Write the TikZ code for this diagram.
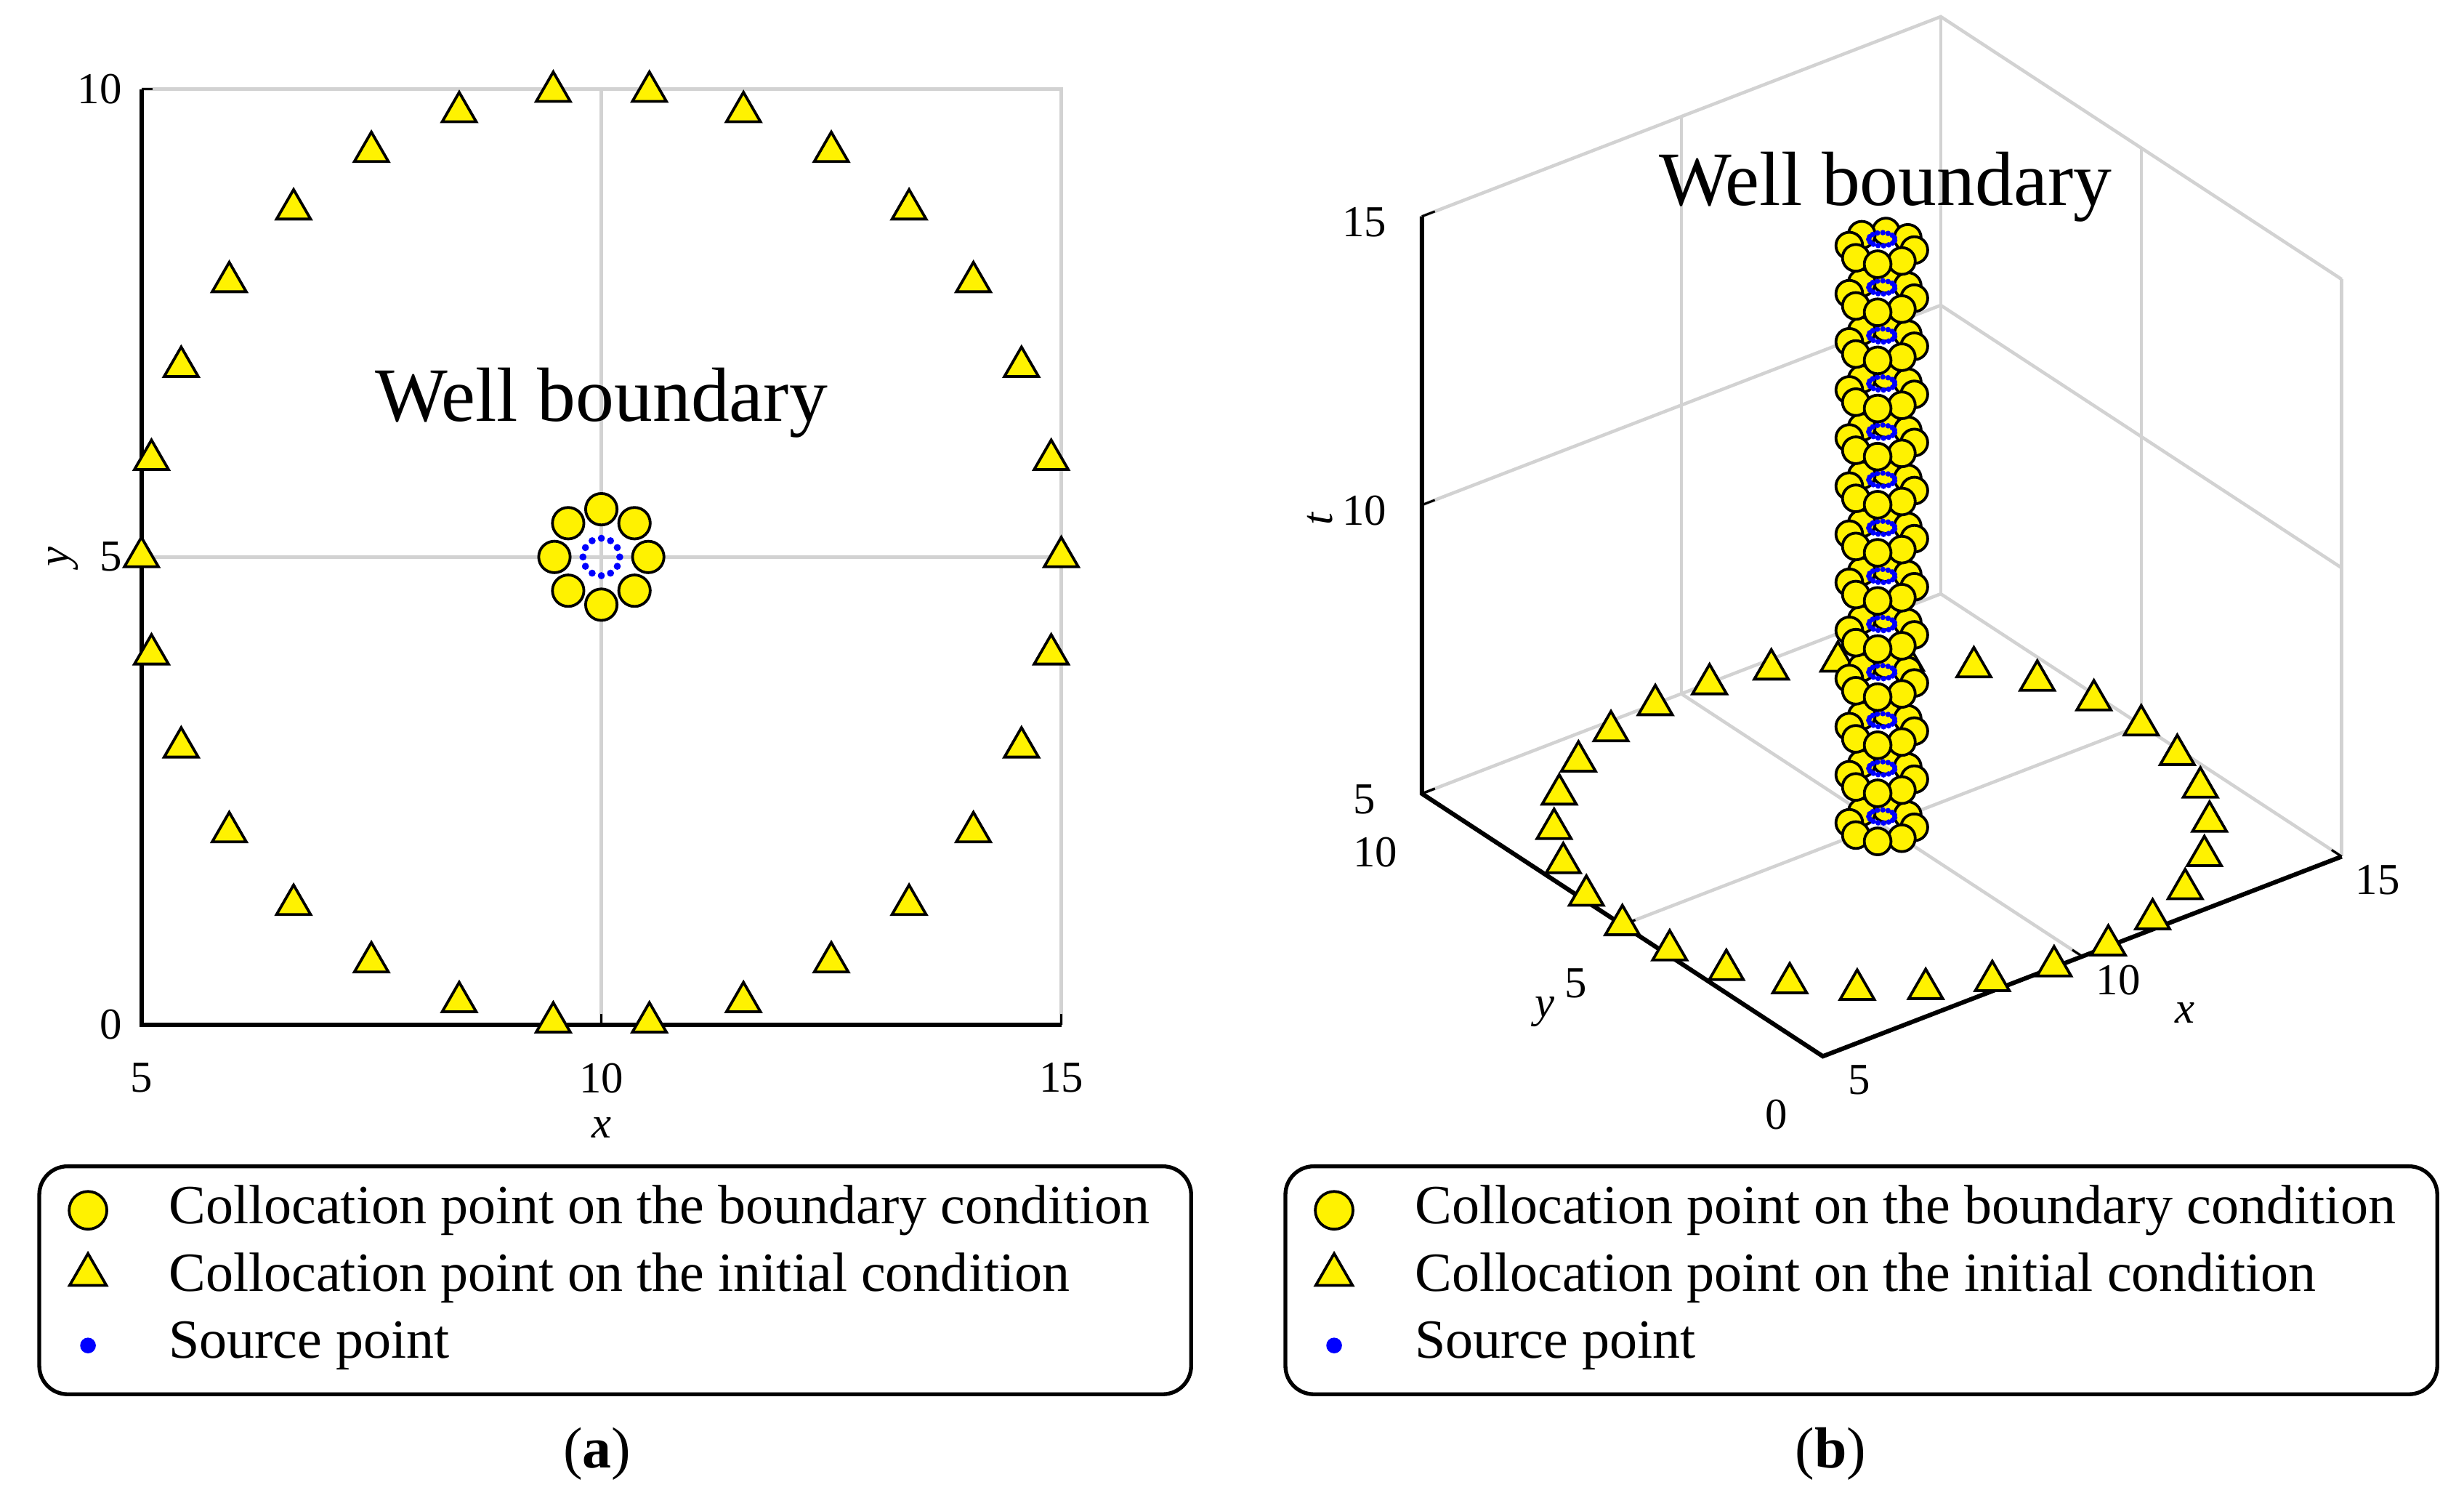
\documentclass[tikz,border=0pt]{standalone}
\usepackage{fontspec}
\setmainfont{Liberation Serif}
\usetikzlibrary{shapes.geometric}

\tikzset{
  tri/.style={regular polygon, regular polygon sides=3, draw=black, fill=yellow, inner sep=0pt, minimum size=0.25cm, line width=0.5pt},
  bc/.style={circle, draw=black, fill=yellow, inner sep=0pt, minimum size=0.2cm, line width=0.5pt},
  src/.style={circle, fill=blue, inner sep=0pt, minimum size=0.045cm},
  grd/.style={draw=gray!35, line width=0.6pt},
  tick/.style={font=\fontsize{8}{9}\selectfont},
  lbl/.style={font=\fontsize{8}{9}\selectfont\itshape},
  leg/.style={font=\fontsize{10}{12}\selectfont, anchor=west},
  title/.style={font=\fontsize{13.9}{16}\selectfont}
}

\begin{document}
\begin{tikzpicture}[x=0.01cm, y=-0.01cm]
	\useasboundingbox (0,0) rectangle (1568,958);
	
	% (a) plane view
	\begin{scope}[shift={(90,652)}, x=0.585cm, y=0.595cm, shift={(-5,0)}]
		\draw[grd] (5,10) -- (15,10) -- (15,0);
		\draw[grd] (10,0) -- (10,10);
		\draw[grd] (5,5) -- (15,5);
		\draw[line width=0.8pt] (5,10) -- (5,0) -- (15,0);
		\foreach \v in {5,10,15} {
			\draw (\v,0) -- (\v,0.12);
			\node[tick, below] (xa\v) at (\v,-0.2) {\v};
		}
		\foreach \v in {0,5,10} {
			\draw (5,\v) -- (5.12,\v);
			\node[tick, left] (ya\v) at (5,\v) {\v};
		}
		\node[lbl] (xlaba) at (10,-1.1) {x};
		\node[lbl, rotate=90] (ylaba) at (4.15,5) {y};
		\node[title] (wella) at (10,6.65) {Well boundary};
		\foreach \a in {0,12,...,348}
			\node[tri] (ta\a) at ({10+5*cos(\a)},{5+5*sin(\a)}) {};
		\foreach \a in {0,45,...,315}
			\node[bc] (ca\a) at ({10+0.51*cos(\a)},{5+0.51*sin(\a)}) {};
		\foreach \a in {0,30,...,330}
			\node[src] (sa\a) at ({10+0.2*cos(\a)},{5+0.2*sin(\a)}) {};
	\end{scope}
	
	% (b) space-time view
	\begin{scope}[shift={(1160,672)}, x={(0.33cm,0.127cm)}, y={(-0.255cm,0.167cm)}, z={(0cm,0.367cm)}, shift={(-5,0,-5)}]
		\draw[grd] (5,10,15) -- (15,10,15) -- (15,0,15);
		\draw[grd] (15,10,5) -- (15,10,15);
		\draw[grd] (15,0,5) -- (15,0,15);
		\draw[grd] (5,10,5) -- (15,10,5) -- (15,0,5);
		\draw[grd] (10,10,5) -- (10,10,15);
		\draw[grd] (10,10,5) -- (10,0,5);
		\draw[grd] (15,5,5) -- (15,5,15);
		\draw[grd] (15,5,5) -- (5,5,5);
		\draw[grd] (5,10,10) -- (15,10,10) -- (15,0,10);
		\draw[line width=0.8pt] (5,10,15) -- (5,10,5) -- (5,0,5) -- (15,0,5);
		\foreach \v in {5,10,15} {
			\draw (\v,0,5) -- (\v,0.25,5);
			\node[tick] (xb\v) at (\v,-0.9,5) {\v};
			\draw (5,10,\v) -- (5.25,10,\v);
			\node[tick] (tb\v) at (4.2,10.4,\v) {\v};
		}
		\foreach \v in {0,5,10} {
			\draw (5,\v,5) -- (5.25,\v,5);
			\node[tick] (yb\v) at (4.1,\v,4.3) {\v};
		}
		\node[lbl] (xlabb) at (10.2,-2.3,5) {x};
		\node[lbl] (ylabb) at (3.2,4.6,4.3) {y};
		\node[lbl, rotate=90] (tlabb) at (3.5,10.6,10) {t};
		\foreach \a in {0,12,...,348}
			\node[tri] (tb\a) at ({10+5*cos(\a)},{5+5*sin(\a)},5) {};
		\foreach \k in {0,...,12} {
			\foreach \a in {45,90,0,135,315,180,270,225}
				\node[bc, minimum size=0.17cm] (cb\k-\a) at ({10+0.5*cos(\a)},{5+0.5*sin(\a)},{5+10*\k/12}) {};
			\foreach \a in {0,24,...,336}
				\node[src, minimum size=0.035cm] (sb\k-\a) at ({10+0.2*cos(\a)},{5+0.2*sin(\a)},{5.15+10*\k/12}) {};
		}
		\node[title] (wellb) at (9.3,4,16.75) {Well boundary};
	\end{scope}
	
	% legends
	\foreach \lx/\n in {25/a, 818/b} {
		\draw[rounded corners=0.18cm, line width=0.7pt] (\lx,742) rectangle ++(733,145);
		\node[bc, minimum size=0.24cm] (lc\n) at (\lx+31,770) {};
		\node[tri, minimum size=0.27cm] (lt\n) at (\lx+31,811) {};
		\node[src, minimum size=0.1cm] (ls\n) at (\lx+31,856) {};
		\node[leg] (lct\n) at (\lx+70,770) {Collocation point on the boundary condition};
		\node[leg] (ltt\n) at (\lx+70,813) {Collocation point on the initial condition};
		\node[leg] (lst\n) at (\lx+70,856) {Source point};
	}
	\node[font=\fontsize{10.5}{12}\selectfont] (capa) at (380,925) {(\textbf{a})};
	\node[font=\fontsize{10.5}{12}\selectfont] (capb) at (1165,925) {(\textbf{b})};
\end{tikzpicture}
\end{document}
